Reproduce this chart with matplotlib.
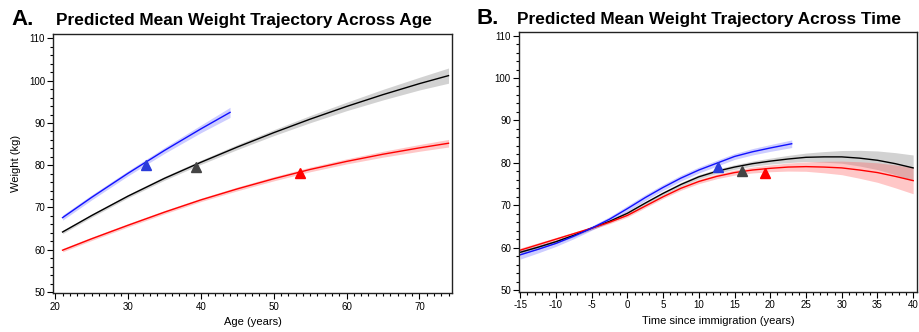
import matplotlib
matplotlib.use("Agg")
import matplotlib.pyplot as plt
from matplotlib.ticker import MultipleLocator
import numpy as np

plt.rcParams['font.family'] = ['Liberation Sans', 'DejaVu Sans']
plt.rcParams['axes.unicode_minus'] = False

# ---------------- Panel A data (age) ----------------
age_blue = [21, 25, 30, 35, 40, 44]
w_blue_A = [67.6, 72.4, 78.1, 83.5, 88.6, 92.5]
ci_blue_A = [0.6, 0.6, 0.6, 0.7, 0.9, 1.2]

age_black = [21, 25, 30, 35, 40, 45, 50, 55, 60, 65, 70, 74]
w_black_A = [64.2, 68.1, 72.7, 76.9, 80.7, 84.3, 87.7, 90.9, 93.9, 96.7, 99.3, 101.2]
ci_black_A = [0.4, 0.4, 0.4, 0.45, 0.5, 0.6, 0.7, 0.85, 1.0, 1.25, 1.5, 1.8]

age_red = [21, 25, 30, 35, 40, 45, 50, 55, 60, 65, 70, 74]
w_red_A = [59.9, 62.6, 65.8, 68.9, 71.8, 74.4, 76.8, 79.0, 80.9, 82.6, 84.1, 85.2]
ci_red_A = [0.4, 0.4, 0.4, 0.4, 0.4, 0.45, 0.5, 0.55, 0.6, 0.7, 0.8, 0.9]

mark_A_x = [32.5, 39.3, 53.6]
mark_A_y = [80.0, 79.6, 78.1]

# ---------------- Panel B data (time since immigration) ----------------
t_blue = [-15, -12.5, -10, -7.5, -5, -2.5, 0, 2.5, 5, 7.5, 10, 12.5, 15, 17.5, 20, 23]
w_blue_B = [58.3, 59.6, 61.0, 62.7, 64.6, 66.7, 69.2, 71.8, 74.2, 76.4, 78.3, 79.9, 81.5, 82.6, 83.5, 84.5]
ci_blue_B = [1.0, 0.85, 0.7, 0.6, 0.5, 0.6, 0.7, 0.7, 0.7, 0.7, 0.7, 0.7, 0.7, 0.75, 0.8, 0.9]

t_all = [-15, -12.5, -10, -7.5, -5, -2.5, 0, 2.5, 5, 7.5, 10, 12.5, 15, 17.5, 20,
         22.5, 25, 27.5, 30, 32.5, 35, 37.5, 40]
w_black_B = [58.9, 60.1, 61.4, 62.9, 64.6, 66.2, 68.1, 70.5, 72.8, 74.9, 76.7, 78.0, 79.0,
             79.8, 80.4, 80.9, 81.3, 81.4, 81.4, 81.1, 80.6, 79.8, 78.8]
ci_black_B = [0.5, 0.45, 0.4, 0.35, 0.35, 0.35, 0.4, 0.4, 0.4, 0.45, 0.5, 0.5, 0.55,
              0.6, 0.7, 0.85, 1.0, 1.25, 1.5, 1.85, 2.2, 2.6, 3.05]
w_red_B = [59.4, 60.7, 62.0, 63.3, 64.6, 66.0, 67.6, 69.8, 72.0, 74.0, 75.6, 76.8, 77.7,
           78.3, 78.7, 79.0, 79.1, 79.0, 78.8, 78.3, 77.7, 76.8, 75.8]
ci_red_B = [0.5, 0.45, 0.4, 0.35, 0.35, 0.35, 0.4, 0.4, 0.4, 0.45, 0.5, 0.55, 0.6,
            0.7, 0.8, 0.95, 1.1, 1.35, 1.6, 1.95, 2.3, 2.7, 3.1]

mark_B_x = [12.7, 16.0, 19.3]
mark_B_y = [78.9, 78.1, 77.5]

mark_colors = ['#2a3bd9', '#444444', '#ff0000']
line_colors = ['#1010ff', '#000000', '#ff0000']
band_colors = ['#7070ff', '#808080', '#ff6060']

fig = plt.figure(figsize=(9.19, 3.32), dpi=100)
axA = fig.add_axes([0.058, 0.1166, 0.434, 0.7804])
axB = fig.add_axes([0.565, 0.120, 0.433, 0.783])


def band_line(ax, x, y, ci, lc, bc):
    x = np.asarray(x); y = np.asarray(y); ci = np.asarray(ci)
    ax.fill_between(x, y - ci, y + ci, color=bc, alpha=0.35, lw=0)
    ax.plot(x, y, color=lc, lw=1.0)


band_line(axA, age_black, w_black_A, ci_black_A, line_colors[1], band_colors[1])
band_line(axA, age_red, w_red_A, ci_red_A, line_colors[2], band_colors[2])
band_line(axA, age_blue, w_blue_A, ci_blue_A, line_colors[0], band_colors[0])
for i in range(3):
    axA.plot(mark_A_x[i], mark_A_y[i], marker='^', ms=7, color=mark_colors[i], ls='none')

band_line(axB, t_all, w_black_B, ci_black_B, line_colors[1], band_colors[1])
band_line(axB, t_all, w_red_B, ci_red_B, line_colors[2], band_colors[2])
band_line(axB, t_blue, w_blue_B, ci_blue_B, line_colors[0], band_colors[0])
for i in range(3):
    axB.plot(mark_B_x[i], mark_B_y[i], marker='^', ms=7, color=mark_colors[i], ls='none')

axA.set_xlim(19.73, 74.5)
axA.set_ylim(49.7, 111.0)
axA.xaxis.set_major_locator(MultipleLocator(10))
axA.xaxis.set_minor_locator(MultipleLocator(1))
axB.set_xlim(-15.14, 40.56)
axB.set_ylim(49.5, 110.8)
axB.xaxis.set_major_locator(MultipleLocator(5))
axB.xaxis.set_minor_locator(MultipleLocator(1))

for ax in (axA, axB):
    ax.yaxis.set_major_locator(MultipleLocator(10))
    ax.yaxis.set_minor_locator(MultipleLocator(2))
    ax.tick_params(which='major', direction='out', length=4, width=0.8, labelsize=7, pad=2)
    ax.tick_params(which='minor', direction='out', length=2.5, width=0.8)
    ax.tick_params(top=False, right=False)
    for s in ax.spines.values():
        s.set_linewidth(1.0)
        s.set_color('#222222')

axA.set_xlabel('Age (years)', fontsize=8, labelpad=4)
axA.set_ylabel('Weight (kg)', fontsize=8, labelpad=6)
axB.set_xlabel('Time since immigration (years)', fontsize=8, labelpad=4)

fig.text(0.012, 0.925, 'A.', fontsize=16, fontweight='bold')
fig.text(0.061, 0.925, 'Predicted Mean Weight Trajectory Across Age', fontsize=12.4, fontweight='bold')
fig.text(0.519, 0.928, 'B.', fontsize=16, fontweight='bold')
fig.text(0.563, 0.928, 'Predicted Mean Weight Trajectory Across Time', fontsize=12.4, fontweight='bold')

fig.savefig('out.png', dpi=100)
